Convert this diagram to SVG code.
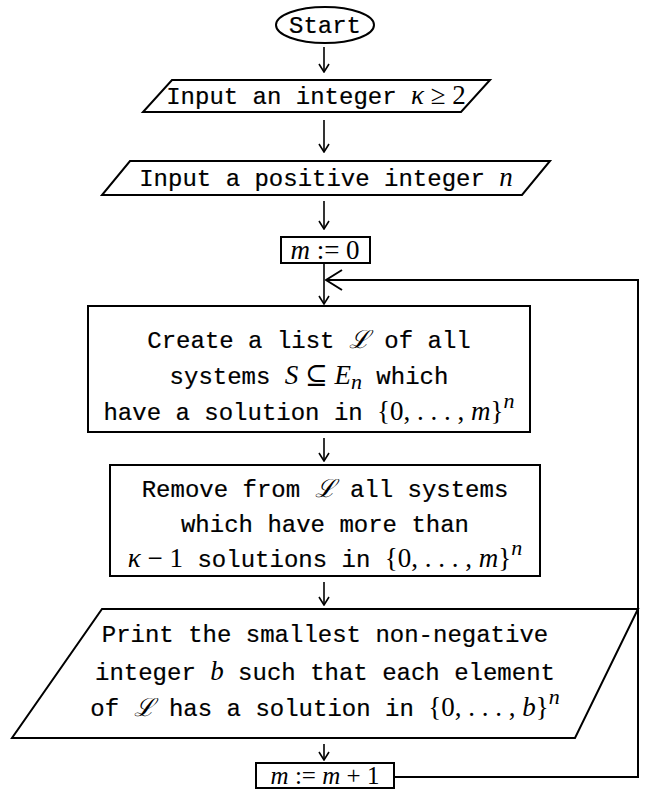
<svg xmlns="http://www.w3.org/2000/svg" width="649" height="789" viewBox="0 0 649 789">
<defs>
<marker id="ah" viewBox="0 0 10 12" refX="9" refY="6" markerWidth="10" markerHeight="12" markerUnits="userSpaceOnUse" orient="auto">
<path d="M1,1 L9,6 L1,11" fill="none" stroke="#000" stroke-width="1.6"/>
</marker>
<marker id="ahb" viewBox="0 0 18 22" refX="17" refY="11" markerWidth="18" markerHeight="22" markerUnits="userSpaceOnUse" orient="auto">
<path d="M1,1 L17,11 L1,21" fill="none" stroke="#000" stroke-width="2"/>
</marker>
</defs>
<style>
.shape{fill:#fff;stroke:#000;stroke-width:2}
.t{font-family:"Liberation Mono","DejaVu Sans Mono",monospace;font-size:24px;fill:#000;stroke:#000;stroke-width:0.2}
.mi{font-family:"Liberation Serif","DejaVu Serif",serif;font-style:italic;font-size:27px;stroke-width:0}
.mr{font-family:"Liberation Serif","DejaVu Serif",serif;font-style:normal;font-size:27px;stroke-width:0}
.cal{font-family:"DejaVu Serif",serif;font-style:italic;font-size:25px;stroke-width:0}
.sup{font-size:22px}
.arr{fill:none;stroke:#000;stroke-width:1.6}
.fb{fill:none;stroke:#000;stroke-width:2}
.small{font-size:25px}
</style>

<g id="connectors">
<line class="arr" x1="324" y1="47" x2="324" y2="72" marker-end="url(#ah)"/>
<line class="arr" x1="324" y1="120" x2="324" y2="152" marker-end="url(#ah)"/>
<line class="arr" x1="324" y1="201" x2="324" y2="229" marker-end="url(#ah)"/>
<line class="arr" x1="324" y1="263" x2="324" y2="304" marker-end="url(#ah)"/>
<line class="arr" x1="324" y1="438" x2="324" y2="461" marker-end="url(#ah)"/>
<line class="arr" x1="324" y1="582" x2="324" y2="605" marker-end="url(#ah)"/>
<line class="arr" x1="324" y1="744" x2="324" y2="760" marker-end="url(#ah)"/>
<polyline class="fb" points="394,777 638,777 638,280 326,280" marker-end="url(#ahb)"/>
</g>

<g id="start">
<ellipse class="shape" cx="325" cy="25" rx="49" ry="18"/>
<text class="t" x="325" y="33" text-anchor="middle">Start</text>
</g>

<g id="input-k">
<polygon class="shape" points="172,80 490,80 461,112 143,112"/>
<text class="t" x="316" y="104" text-anchor="middle">Input an integer <tspan class="mi">κ</tspan><tspan class="mr"> ≥ 2</tspan></text>
</g>

<g id="input-n">
<polygon class="shape" points="130,161 550,161 522,195 102,195"/>
<text class="t" x="326" y="186" text-anchor="middle">Input a positive integer <tspan class="mi">n</tspan></text>
</g>

<g id="m-zero">
<rect class="shape" x="281" y="237" width="89" height="26"/>
<text x="325" y="259" text-anchor="middle"><tspan class="mi">m</tspan><tspan class="mr"> := 0</tspan></text>
</g>

<g id="create-list">
<rect class="shape" x="88" y="306" width="442" height="126"/>
<text class="t" x="309" y="348" text-anchor="middle">Create a list <tspan class="cal">ℒ</tspan> of all</text>
<text class="t" x="309" y="384" text-anchor="middle">systems <tspan class="mi">S</tspan><tspan class="mr"> ⊆ </tspan><tspan class="mi">E</tspan><tspan class="mi sup" dy="5">n</tspan><tspan dy="-5"> which</tspan></text>
<text class="t" x="309" y="420" text-anchor="middle">have a solution in <tspan class="mr">{0, . . . , </tspan><tspan class="mi">m</tspan><tspan class="mr">}</tspan><tspan class="mi sup" dy="-12">n</tspan></text>
</g>

<g id="remove">
<rect class="shape" x="110" y="465" width="430" height="111"/>
<text class="t" x="325" y="497" text-anchor="middle">Remove from <tspan class="cal">ℒ</tspan> all systems</text>
<text class="t" x="325" y="532" text-anchor="middle">which have more than</text>
<text class="t" x="325" y="567" text-anchor="middle"><tspan class="mi">κ</tspan><tspan class="mr"> − 1</tspan> solutions in <tspan class="mr">{0, . . . , </tspan><tspan class="mi">m</tspan><tspan class="mr">}</tspan><tspan class="mi sup" dy="-12">n</tspan></text>
</g>

<g id="print">
<polygon class="shape" points="102,609 638,609 575,738 12,738"/>
<text class="t" x="325" y="642" text-anchor="middle">Print the smallest non-negative</text>
<text class="t" x="325" y="680" text-anchor="middle">integer <tspan class="mi">b</tspan> such that each element</text>
<text class="t" x="325" y="716" text-anchor="middle">of <tspan class="cal">ℒ</tspan> has a solution in <tspan class="mr">{0, . . . , </tspan><tspan class="mi">b</tspan><tspan class="mr">}</tspan><tspan class="mi sup" dy="-12">n</tspan></text>
</g>

<g id="m-inc">
<rect class="shape" x="256" y="763" width="138" height="25"/>
<text x="325" y="784" text-anchor="middle"><tspan class="mi small">m</tspan><tspan class="mr small"> := </tspan><tspan class="mi small">m</tspan><tspan class="mr small"> + 1</tspan></text>
</g>
</svg>
